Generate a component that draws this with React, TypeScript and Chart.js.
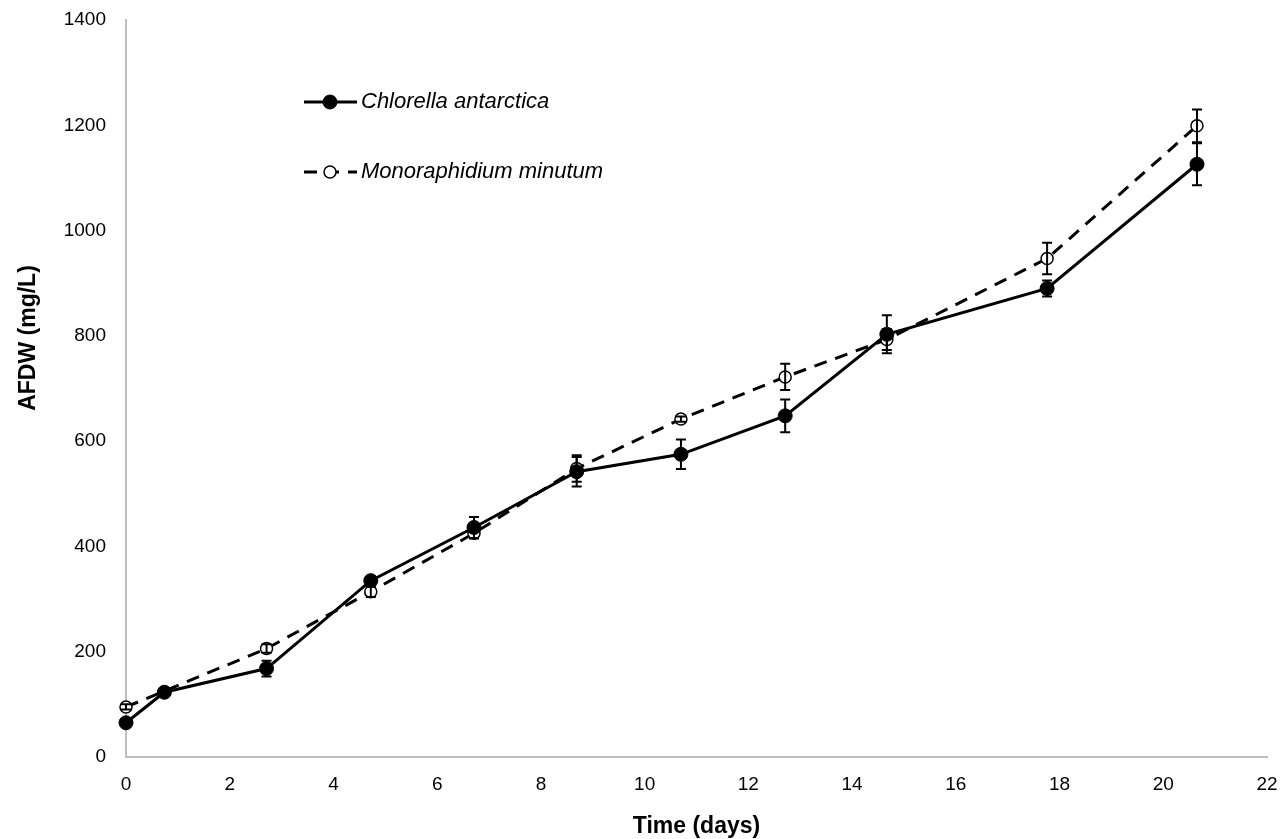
import React, { useEffect, useRef } from "react";
import { Chart, registerables } from "chart.js";

Chart.register(...registerables);

// ---- Data ----
const chlorellaLabel = "Chlorella antarctica";
const chlorellaDays = [0, 0.74, 2.71, 4.72, 6.71, 8.69, 10.7, 12.71, 14.67, 17.76, 20.65];
const chlorellaAFDW = [65, 123, 168, 335, 436, 542, 575, 648, 803, 890, 1126];
const chlorellaSD = [5, 5, 15, 8, 20, 28, 28, 31, 36, 15, 40];

const monoLabel = "Monoraphidium minutum";
const monoDays = [0, 2.71, 4.72, 6.71, 8.69, 10.7, 12.71, 14.67, 17.76, 20.65];
const monoAFDW = [95, 206, 314, 425, 548, 642, 722, 793, 947, 1199];
const monoSD = [5, 8, 10, 10, 25, 5, 25, 20, 30, 31];

const xAxisTitle = "Time (days)";
const yAxisTitle = "AFDW (mg/L)";
const xMin = 0;
const xMax = 22;
const xStep = 2;
const yMin = 0;
const yMax = 1400;
const yStep = 200;

const FONT = "'Liberation Sans', Arial, sans-serif";

const errorBarPlugin = {
  id: "errorBars",
  afterDatasetsDraw(chart: any) {
    const ctx = chart.ctx;
    const xs = chart.scales.x;
    const ys = chart.scales.y;
    chart.data.datasets.forEach((ds: any) => {
      const errs: number[] = ds.errors || [];
      ctx.save();
      ctx.strokeStyle = "#000";
      ctx.lineWidth = 2;
      ds.data.forEach((p: any, i: number) => {
        const e = errs[i];
        if (!e) return;
        const px = xs.getPixelForValue(p.x);
        const top = ys.getPixelForValue(p.y + e);
        const bot = ys.getPixelForValue(p.y - e);
        ctx.beginPath();
        ctx.moveTo(px, top);
        ctx.lineTo(px, bot);
        ctx.moveTo(px - 5, top);
        ctx.lineTo(px + 5, top);
        ctx.moveTo(px - 5, bot);
        ctx.lineTo(px + 5, bot);
        ctx.stroke();
      });
      ctx.restore();
    });
  },
};

const legendPlugin = {
  id: "insideLegend",
  afterDraw(chart: any) {
    const ctx = chart.ctx;
    const rows = [102, 172];
    const x0 = 304;
    const x1 = 357;
    const mx = 330;
    chart.data.datasets.forEach((ds: any, i: number) => {
      const y = rows[i];
      ctx.save();
      ctx.strokeStyle = ds.borderColor;
      ctx.lineWidth = ds.borderWidth;
      ctx.setLineDash(ds.borderDash || []);
      ctx.beginPath();
      ctx.moveTo(x0, y);
      ctx.lineTo(x1, y);
      ctx.stroke();
      ctx.setLineDash([]);
      ctx.beginPath();
      ctx.arc(mx, y, ds.pointRadius, 0, Math.PI * 2);
      ctx.fillStyle = ds.pointBackgroundColor;
      ctx.fill();
      ctx.lineWidth = ds.pointBorderWidth;
      ctx.strokeStyle = ds.pointBorderColor;
      ctx.stroke();
      ctx.fillStyle = "#000";
      ctx.font = `italic 22px ${FONT}`;
      ctx.textAlign = "left";
      ctx.textBaseline = "middle";
      ctx.fillText(ds.label, 361, y);
      ctx.restore();
    });
  },
};

const yTitlePlugin = {
  id: "yTitle",
  afterDraw(chart: any) {
    const ctx = chart.ctx;
    ctx.save();
    ctx.translate(29, 338);
    ctx.rotate(-Math.PI / 2);
    ctx.fillStyle = "#000";
    ctx.font = `bold 23px ${FONT}`;
    ctx.textAlign = "center";
    ctx.textBaseline = "middle";
    ctx.fillText(yAxisTitle, 0, 0);
    ctx.restore();
  },
};

function noOverhang(scale: any) {
  scale.paddingTop = 0;
  scale.paddingBottom = 0;
  scale.paddingLeft = 0;
  scale.paddingRight = 0;
}

export default function App() {
  const ref = useRef<HTMLCanvasElement | null>(null);

  useEffect(() => {
    if (!ref.current) return;
    const chart = new Chart(ref.current, {
      type: "line",
      data: {
        datasets: [
          {
            label: chlorellaLabel,
            data: chlorellaDays.map((d, i) => ({ x: d, y: chlorellaAFDW[i] })),
            errors: chlorellaSD,
            borderColor: "#000",
            borderWidth: 3,
            pointRadius: 7,
            pointHoverRadius: 7,
            pointBackgroundColor: "#000",
            pointBorderColor: "#000",
            pointBorderWidth: 1,
            tension: 0,
            clip: false,
          } as any,
          {
            label: monoLabel,
            data: monoDays.map((d, i) => ({ x: d, y: monoAFDW[i] })),
            errors: monoSD,
            borderColor: "#000",
            borderWidth: 3,
            borderDash: [13, 9],
            pointRadius: 6,
            pointHoverRadius: 6,
            pointBackgroundColor: "#fff",
            pointBorderColor: "#000",
            pointBorderWidth: 1.5,
            tension: 0,
            clip: false,
          } as any,
        ],
      },
      options: {
        animation: false,
        responsive: false,
        maintainAspectRatio: false,
        layout: { padding: { top: 20, right: 21, left: 0, bottom: 0 } },
        plugins: {
          legend: { display: false },
          tooltip: { enabled: false },
        },
        scales: {
          x: {
            type: "linear",
            min: xMin,
            max: xMax,
            grid: { display: false, drawTicks: false },
            border: { display: true, color: "#bfbfbf", width: 2 },
            ticks: {
              stepSize: xStep,
              padding: 16,
              color: "#000",
              font: { family: FONT, size: 19 },
              maxRotation: 0,
              callback: (v: any) => String(v),
            },
            title: {
              display: true,
              text: xAxisTitle,
              color: "#000",
              font: { family: FONT, size: 23, weight: "bold", lineHeight: 1.05 },
              padding: { top: 0, bottom: 0 },
            },
            afterFit(scale: any) {
              scale.height = 82;
              noOverhang(scale);
            },
          },
          y: {
            type: "linear",
            min: yMin,
            max: yMax,
            grid: { display: false, drawTicks: false },
            border: { display: true, color: "#bfbfbf", width: 2 },
            ticks: {
              stepSize: yStep,
              padding: 20,
              color: "#000",
              font: { family: FONT, size: 19 },
              callback: (v: any) => String(v),
            },
            title: { display: false },
            afterFit(scale: any) {
              scale.width = 126;
              noOverhang(scale);
            },
          },
        },
      } as any,
      plugins: [errorBarPlugin, legendPlugin, yTitlePlugin],
    });
    return () => chart.destroy();
  }, []);

  return (
    <div style={{ position: "fixed", left: 0, top: 0, width: 1288, height: 839, background: "#fff" }}>
      <canvas ref={ref} width={1288} height={839} style={{ width: 1288, height: 839 }} />
    </div>
  );
}
